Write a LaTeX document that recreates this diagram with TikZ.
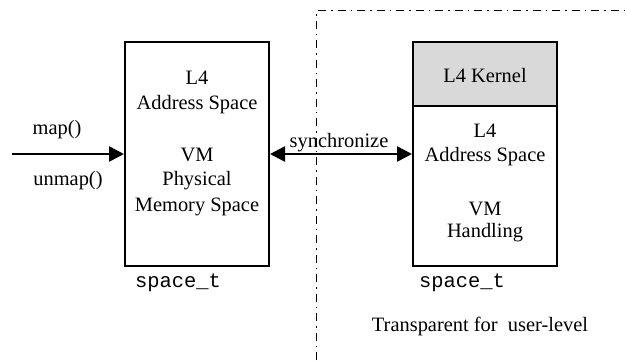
\documentclass[tikz,border=0pt]{standalone}
\usepackage{fontspec}
\setmainfont{Liberation Serif}
\setmonofont{Liberation Mono}
\usetikzlibrary{arrows.meta}
\begin{document}
\begin{tikzpicture}[x=1bp,y=-1bp,
  txt/.style={inner sep=0pt,font=\fontsize{20.5}{24}\selectfont},
  mono/.style={inner sep=0pt,font=\fontsize{20.5}{24}\selectfont\ttfamily},
  spacebox/.style={draw,line width=2bp,minimum width=144bp,minimum height=224bp,inner sep=0pt},
  kernelhead/.style={draw,line width=2bp,fill=black!15,minimum width=144bp,minimum height=64bp,inner sep=0pt},
  conn/.style={line width=2.6bp,-{Triangle[length=15bp,width=15bp]}},
  boundary/.style={line width=1.4bp,dash pattern=on 8bp off 5bp on 1.5bp off 5bp}]
\useasboundingbox (0,0) rectangle (627,360);

% boundary of the region that is transparent for user level
\coordinate (bt) at (316.5,10.5);
\coordinate (bb) at (316.5,360);
\coordinate (br) at (627,10.5);
\draw[boundary] (bb) -- (bt) -- (br);

% left address space
\node[spacebox] (left) at (197,154) {};
\node[txt] (l1) at (197,78) {L4};
\node[txt] (l2) at (197,105) {Address Space};
\node[txt] (l3) at (197,155) {VM};
\node[txt] (l4) at (197,181) {Physical};
\node[txt] (l5) at (197,207) {Memory Space};
\node[mono] (ls) at (178,283) {space\_t};

% right address space with kernel part
\node[spacebox] (right) at (485,154) {};
\node[kernelhead,anchor=north] (kern) at (right.north) {};
\node[txt] (k0) at (485,76) {L4 Kernel};
\node[txt] (r1) at (485,131) {L4};
\node[txt] (r2) at (485,157) {Address Space};
\node[txt] (r3) at (485,209) {VM};
\node[txt] (r4) at (485,233) {Handling};
\node[mono] (rs) at (462,283) {space\_t};
\node[txt] (tr) at (480,326) {Transparent for\ \ user-level};

% incoming map/unmap calls
\coordinate (src) at (12,154);
\draw[conn] (src) -- (src -| left.west);
\node[txt] (map) at (57,130) {map()};
\node[txt] (unmap) at (68,181) {unmap()};

% synchronisation between the two spaces
\draw[conn,{Triangle[length=15bp,width=15bp]}-{Triangle[length=15bp,width=15bp]}]
  (left.east |- 0,154) -- (right.west |- 0,154);
\node[txt] (sync) at (339,143) {synchronize};
\end{tikzpicture}
\end{document}
